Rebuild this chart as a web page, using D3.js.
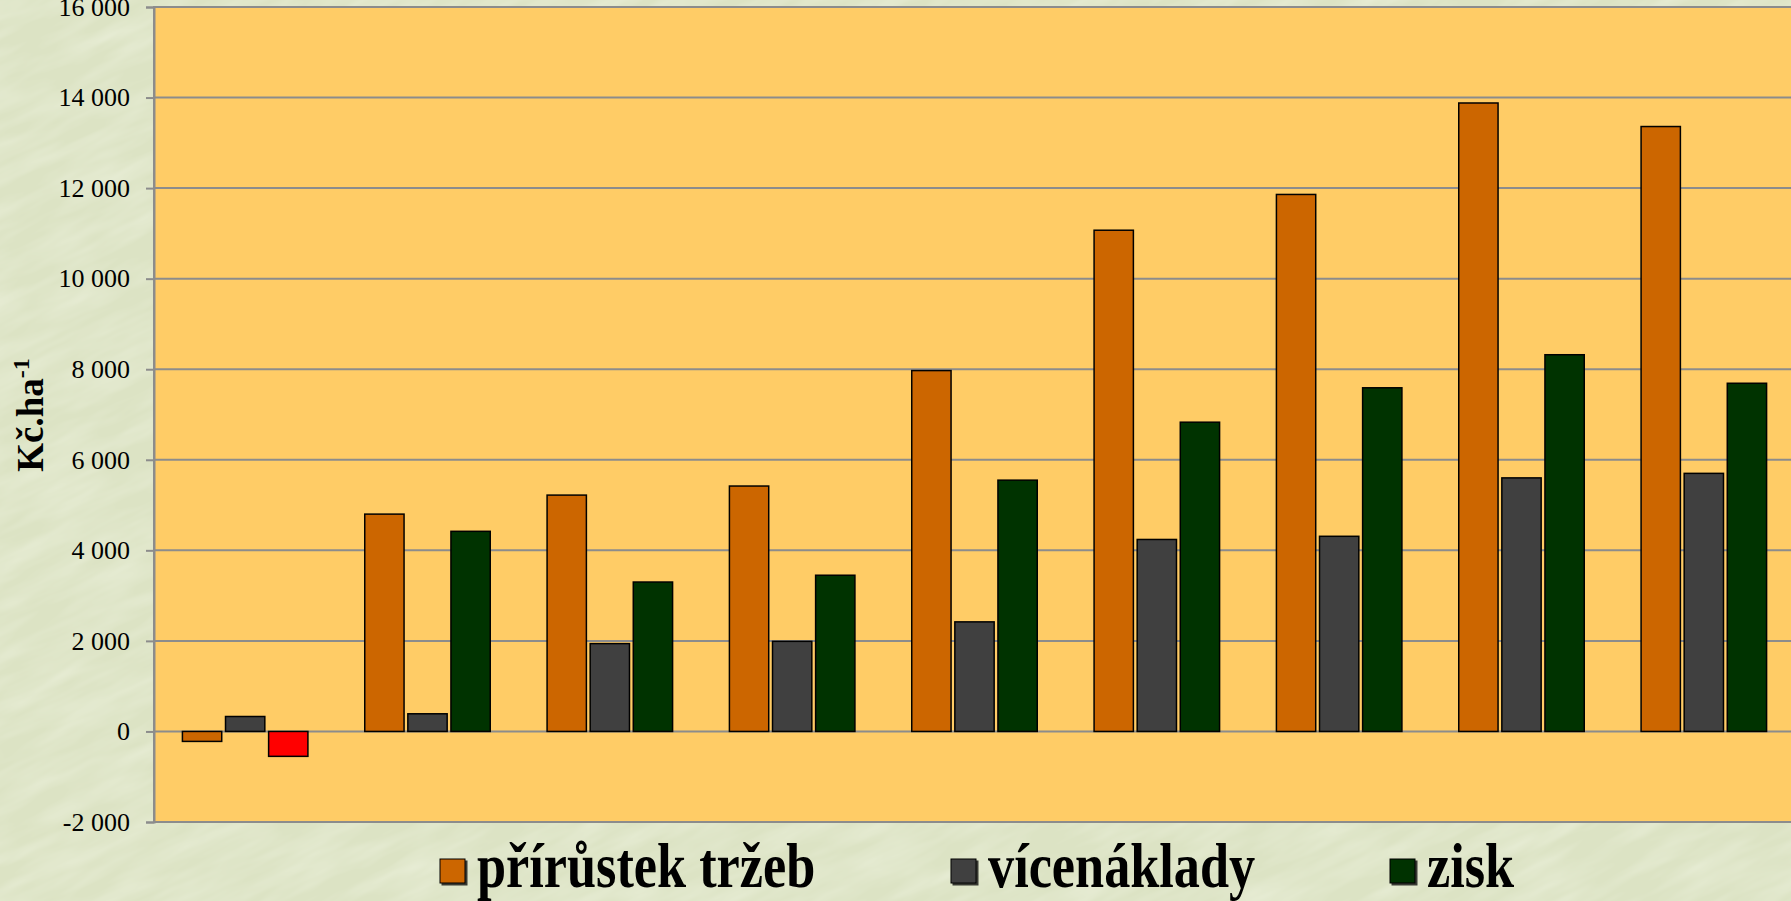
<!DOCTYPE html>
<html>
<head>
<meta charset="utf-8">
<script src="https://cdn.jsdelivr.net/npm/d3@7"></script>
<style>
  html, body { margin: 0; padding: 0; background: #e0e7c9; }
  svg { display: block; }
</style>
</head>
<body>
<svg id="chart" width="1791" height="901"></svg>
<script>
// variants (no category labels are shown in the chart)
const categories = ['1', '2', '3', '4', '5', '6', '7', '8', '9'];
const seriesNames = ['přírůstek tržeb', 'vícenáklady', 'zisk'];

// Kč.ha-1
const prirustekTrzeb = [-220, 4800, 5220, 5420, 7970, 11070, 11860, 13880, 13360];
const vicenaklady    = [330, 390, 1940, 1990, 2420, 4240, 4310, 5600, 5700];
const zisk           = [-550, 4420, 3300, 3450, 5550, 6830, 7590, 8320, 7690];

const yTicks = [-2000, 0, 2000, 4000, 6000, 8000, 10000, 12000, 14000, 16000];

const seriesColors = ['#cc6600', '#404040', '#003300'];
const negativeProfitColor = '#ff0000';

const width = 1791;
const height = 901;
const plot = { left: 154, right: 1795, top: 7, bottom: 822 };

const svg = d3.select('#chart');

const locale = d3.formatLocale({ decimal: ',', thousands: ' ', grouping: [3], currency: ['', ''], minus: '-' });
const fmt = locale.format(',d');

// grass-like background texture
const defs = svg.append('defs');
const grass = defs.append('filter')
    .attr('id', 'grass')
    .attr('x', 0).attr('y', 0).attr('width', 1).attr('height', 1);
grass.append('feTurbulence')
    .attr('type', 'fractalNoise')
    .attr('baseFrequency', '0.012 0.06')
    .attr('numOctaves', 3)
    .attr('seed', 7)
    .attr('result', 'noise');
grass.append('feColorMatrix')
    .attr('in', 'noise')
    .attr('type', 'matrix')
    .attr('values', '0 0 0 0 0.97  0 0 0 0 0.99  0 0 0 0 0.9  0 0 0 0.55 -0.18');

const shadow = defs.append('filter').attr('id', 'shadow');
shadow.append('feDropShadow')
    .attr('dx', 2).attr('dy', 2).attr('stdDeviation', 0.6)
    .attr('flood-color', '#000').attr('flood-opacity', 0.75);

svg.append('rect')
    .attr('width', width).attr('height', height)
    .attr('fill', '#dce3c4');
svg.append('g')
    .attr('transform', 'rotate(-25 895 450)')
    .append('rect')
    .attr('x', -400).attr('y', -400)
    .attr('width', width + 800).attr('height', height + 800)
    .attr('filter', 'url(#grass)');

const y = d3.scaleLinear()
    .domain([-2000, 16000])
    .range([plot.bottom, plot.top]);

const x0 = d3.scaleBand()
    .domain(categories)
    .range([plot.left, plot.right])
    .padding(0);

const groupWidth = 125.5;
const x1 = d3.scaleBand()
    .domain(seriesNames)
    .range([0, groupWidth])
    .paddingInner(0.088);

// plot area
svg.append('rect')
    .attr('x', plot.left).attr('y', plot.top)
    .attr('width', plot.right - plot.left)
    .attr('height', plot.bottom - plot.top)
    .attr('fill', '#ffcc66')
    .attr('stroke', '#8c8c8c')
    .attr('stroke-width', 2);

// gridlines
svg.append('g')
    .selectAll('line')
    .data(yTicks.filter(t => t !== -2000))
    .join('line')
    .attr('x1', plot.left).attr('x2', plot.right)
    .attr('y1', d => y(d)).attr('y2', d => y(d))
    .attr('stroke', '#8c8c8c')
    .attr('stroke-width', 2);

// y axis
const yAxis = svg.append('g')
    .attr('transform', `translate(${plot.left},0)`)
    .call(d3.axisLeft(y).tickValues(yTicks).tickFormat(fmt).tickSize(8).tickPadding(16));
yAxis.select('.domain').attr('stroke', '#8c8c8c').attr('stroke-width', 2);
yAxis.selectAll('.tick line').attr('stroke', '#8c8c8c').attr('stroke-width', 2);
yAxis.selectAll('.tick text')
    .attr('fill', '#000')
    .style('font-family', '"Liberation Serif", "Times New Roman", serif')
    .style('font-size', '26px');

// y axis title
const yTitle = svg.append('text')
    .attr('transform', 'translate(43,415) rotate(-90)')
    .attr('text-anchor', 'middle')
    .style('font-family', '"Liberation Serif", "Times New Roman", serif')
    .style('font-weight', 'bold')
    .style('font-size', '37px')
    .attr('fill', '#000');
yTitle.append('tspan').text('Kč.ha');
yTitle.append('tspan')
    .attr('dy', -14)
    .style('font-size', '24px')
    .text('-1');

// bars
const rows = categories.map((c, i) => ({
    category: c,
    values: [prirustekTrzeb[i], vicenaklady[i], zisk[i]]
}));

const groupOffset = (x0.bandwidth() - groupWidth) / 2;

svg.append('g')
    .selectAll('g')
    .data(rows)
    .join('g')
    .attr('transform', d => `translate(${x0(d.category) + groupOffset},0)`)
    .selectAll('rect')
    .data(d => d.values.map((v, j) => ({ name: seriesNames[j], j, value: v })))
    .join('rect')
    .attr('x', d => x1(d.name))
    .attr('width', x1.bandwidth())
    .attr('y', d => y(Math.max(0, d.value)))
    .attr('height', d => Math.abs(y(d.value) - y(0)))
    .attr('fill', d => (d.j === 2 && d.value < 0) ? negativeProfitColor : seriesColors[d.j])
    .attr('stroke', '#000')
    .attr('stroke-width', 1.5);

// legend
const legendItems = [
    { name: seriesNames[0], color: seriesColors[0], x: 440 },
    { name: seriesNames[1], color: seriesColors[1], x: 951 },
    { name: seriesNames[2], color: seriesColors[2], x: 1390 }
];

const legend = svg.append('g')
    .selectAll('g')
    .data(legendItems)
    .join('g')
    .attr('transform', d => `translate(${d.x},859)`);

legend.append('rect')
    .attr('width', 25).attr('height', 24)
    .attr('fill', d => d.color)
    .attr('stroke', '#000')
    .attr('stroke-width', 1)
    .attr('filter', 'url(#shadow)');

legend.append('text')
    .attr('transform', 'translate(37,28) scale(0.83,1)')
    .style('font-family', '"Liberation Serif", "Times New Roman", serif')
    .style('font-weight', 'bold')
    .style('font-size', '63px')
    .attr('fill', '#000')
    .text(d => d.name);
</script>
</body>
</html>
